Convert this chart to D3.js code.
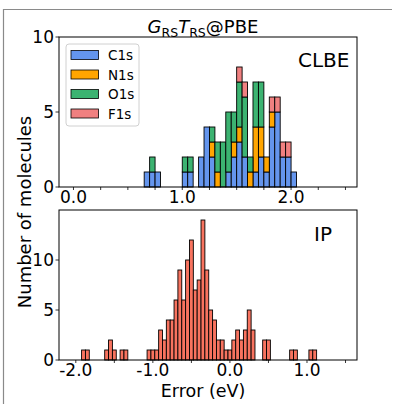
<!DOCTYPE html>
<html>
<head>
<meta charset="utf-8">
<script src="https://cdn.jsdelivr.net/npm/d3@7"></script>
<style>
  html, body { margin: 0; padding: 0; background: #fff; }
  svg { display: block; font-family: "DejaVu Sans", sans-serif; }
</style>
</head>
<body>
<svg id="chart" width="396" height="404"></svg>
<script>
// CLBE panel: stacked histogram, left edge of each bin (eV)
const clbeBins = [0.65, 0.70, 0.75, 1.00, 1.05, 1.15, 1.20, 1.25, 1.30, 1.35, 1.40, 1.45,
  1.50, 1.55, 1.60, 1.65, 1.70, 1.75, 1.80, 1.85, 1.90, 1.95, 2.00];
const c1s = [1, 1, 1, 1, 1, 2, 4, 2, 0, 0, 1, 2, 3, 2, 0, 1, 2, 1, 4, 5, 2, 2, 1];
const n1s = [0, 0, 0, 0, 0, 0, 0, 1, 1, 0, 0, 1, 1, 0, 1, 3, 2, 1, 1, 0, 0, 0, 0];
const o1s = [0, 1, 0, 1, 1, 0, 0, 1, 2, 3, 4, 2, 3, 4, 1, 3, 3, 0, 0, 0, 0, 0, 0];
const f1s = [0, 0, 0, 0, 0, 0, 0, 0, 0, 0, 0, 0, 1, 1, 0, 0, 0, 0, 1, 1, 1, 1, 0];
const clbeWidth = 0.05;

const seriesNames = ["C1s", "N1s", "O1s", "F1s"];
const seriesColors = ["#6495ed", "#ffa500", "#3cb371", "#f08080"];

// IP panel: counts per bin, first bin starts at ipStart
const ipStart = -1.925;
const ipWidth = 0.05;
const ipCounts = [1, 1, 0, 0, 0, 0, 1, 2, 1, 0, 1, 1, 0, 0, 0, 0, 0, 1, 1, 1,
  3, 2, 4, 4, 6, 9, 6, 10, 12, 7, 8, 14, 9, 5, 4, 2, 2, 1, 1, 2,
  3, 2, 3, 5, 3, 0, 0, 2, 2, 0, 0, 0, 0, 0, 1, 1, 0, 0, 0, 1, 1];

const yTicks = [0, 5, 10];
const topXTicks = [0, 1, 2];
const botXTicks = [-2, -1, 0, 1];

const svg = d3.select("#chart");

// figure frame
svg.append("path")
  .attr("d", "M3.5,404V9.5H392")
  .attr("fill", "none")
  .attr("stroke", "#8a8a8a")
  .attr("stroke-width", 1.2);

const left = 59, right = 357;

const xTop = d3.scaleLinear().domain([-0.133, 2.606]).range([left, right]);
const yTop = d3.scaleLinear().domain([0, 10]).range([187, 37]);
const xBot = d3.scaleLinear().domain([-2.218, 1.649]).range([left, right]);
const yBot = d3.scaleLinear().domain([0, 15]).range([360, 210]);

function drawAxes(g, x, y, majors, minorStep, fmt) {
  const [y0, y1] = y.range();
  const [d0, d1] = x.domain();
  // minor ticks
  const minors = d3.range(Math.ceil(d0 / minorStep) * minorStep, d1, minorStep);
  g.append("g").selectAll("line").data(minors).join("line")
    .attr("x1", (d) => x(d)).attr("x2", (d) => x(d))
    .attr("y1", y0).attr("y2", y0 + 3)
    .attr("stroke", "#000").attr("stroke-width", 0.8);
  g.append("g").selectAll("text").data(majors).join("text")
    .attr("x", (d) => x(d))
    .attr("y", y0 + 16)
    .attr("text-anchor", "middle")
    .attr("font-size", 17)
    .text((d) => fmt(d));
  // y ticks
  g.append("g").selectAll("line").data(yTicks).join("line")
    .attr("x1", left - 3.5).attr("x2", left)
    .attr("y1", (d) => y(d)).attr("y2", (d) => y(d))
    .attr("stroke", "#000").attr("stroke-width", 0.8);
  g.append("g").selectAll("text").data(yTicks).join("text")
    .attr("x", left - 5)
    .attr("y", (d) => y(d) + 6)
    .attr("text-anchor", "end")
    .attr("font-size", 17)
    .text((d) => d);
  // spines
  g.append("rect")
    .attr("x", left).attr("y", y1)
    .attr("width", right - left).attr("height", y0 - y1)
    .attr("fill", "none")
    .attr("stroke", "#000")
    .attr("stroke-width", 1);
}

const fmt = (d) => d.toFixed(1);

// ---- top panel (CLBE) ----
const rows = clbeBins.map((b, i) => ({
  bin: b, C1s: c1s[i], N1s: n1s[i], O1s: o1s[i], F1s: f1s[i],
}));
const stacked = d3.stack().keys(seriesNames)(rows);

const topG = svg.append("g");
topG.selectAll("g.layer")
  .data(stacked)
  .join("g")
  .classed("layer", true)
  .attr("fill", (d, i) => seriesColors[i])
  .selectAll("rect")
  .data((d) => d.filter((s) => s[1] > s[0]))
  .join("rect")
  .attr("x", (d) => xTop(d.data.bin))
  .attr("width", (d) => xTop(d.data.bin + clbeWidth) - xTop(d.data.bin))
  .attr("y", (d) => yTop(d[1]))
  .attr("height", (d) => yTop(d[0]) - yTop(d[1]))
  .attr("stroke", "#000")
  .attr("stroke-width", 0.9);

drawAxes(topG, xTop, yTop, topXTicks, 0.25, fmt);

topG.append("text")
  .attr("x", 298).attr("y", 67)
  .attr("font-size", 20)
  .text("CLBE");

// legend
const legend = topG.append("g");
legend.append("rect")
  .attr("x", 66).attr("y", 44)
  .attr("width", 73).attr("height", 82)
  .attr("rx", 3)
  .attr("fill", "#fff").attr("fill-opacity", 0.8)
  .attr("stroke", "#d0d0d0");
legend.selectAll("g.item")
  .data(seriesNames)
  .join("g")
  .classed("item", true)
  .attr("transform", (d, i) => `translate(0, ${55 + i * 19.5})`)
  .each(function (d, i) {
    const g = d3.select(this);
    g.append("rect")
      .attr("x", 71).attr("y", -4.5)
      .attr("width", 27.5).attr("height", 9)
      .attr("fill", seriesColors[i])
      .attr("stroke", "#000").attr("stroke-width", 0.8);
    g.append("text")
      .attr("x", 108).attr("y", 5)
      .attr("font-size", 13.5)
      .text(d);
  });

// title
const title = svg.append("text")
  .attr("x", 203).attr("y", 33)
  .attr("text-anchor", "middle")
  .attr("font-size", 18);
title.append("tspan").attr("font-style", "italic").text("G");
title.append("tspan").attr("font-size", 12.5).attr("dy", 4).text("RS");
title.append("tspan").attr("font-style", "italic").attr("dy", -4).text("T");
title.append("tspan").attr("font-size", 12.5).attr("dy", 4).text("RS");
title.append("tspan").attr("dy", -4).text("@PBE");

// ---- bottom panel (IP) ----
const ipRows = ipCounts.map((c, i) => ({ x0: ipStart + i * ipWidth, count: c }));
const botG = svg.append("g");
botG.append("g")
  .selectAll("rect")
  .data(ipRows.filter((d) => d.count > 0))
  .join("rect")
  .attr("x", (d) => xBot(d.x0))
  .attr("width", (d) => xBot(d.x0 + ipWidth) - xBot(d.x0))
  .attr("y", (d) => yBot(d.count))
  .attr("height", (d) => yBot(0) - yBot(d.count))
  .attr("fill", "#f8735f")
  .attr("stroke", "#000")
  .attr("stroke-width", 0.9);

drawAxes(botG, xBot, yBot, botXTicks, 0.5, fmt);

botG.append("text")
  .attr("x", 314).attr("y", 241)
  .attr("font-size", 20)
  .text("IP");

// shared labels
svg.append("text")
  .attr("x", 203).attr("y", 397)
  .attr("text-anchor", "middle")
  .attr("font-size", 17.5)
  .text("Error (eV)");

svg.append("text")
  .attr("transform", "translate(31, 212) rotate(-90)")
  .attr("text-anchor", "middle")
  .attr("font-size", 18)
  .text("Number of molecules");
</script>
</body>
</html>
